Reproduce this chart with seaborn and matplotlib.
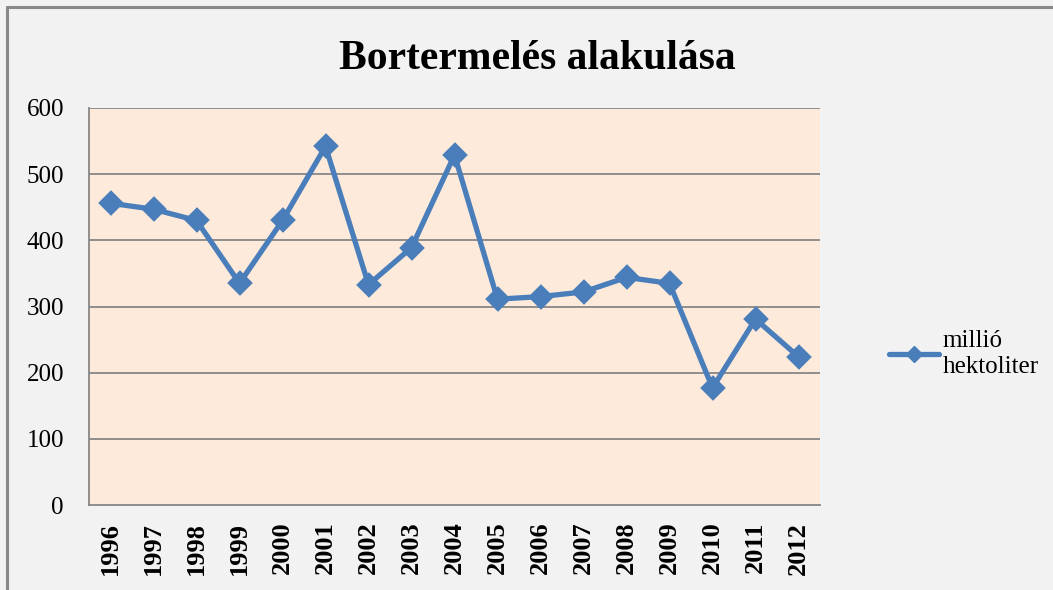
import numpy as np
import matplotlib
matplotlib.use("Agg")
import matplotlib.pyplot as plt
import seaborn as sns
from matplotlib.lines import Line2D
from matplotlib.ticker import FixedLocator

years = ["1996", "1997", "1998", "1999", "2000", "2001", "2002", "2003", "2004",
         "2005", "2006", "2007", "2008", "2009", "2010", "2011", "2012"]
production = [456, 447, 430, 335, 430, 542, 333, 389, 529,
              311, 315, 322, 344, 335, 177, 281, 224]
y_ticks = [0, 100, 200, 300, 400, 500, 600]
title = "Bortermelés alakulása"
series_label = "millió\nhektoliter"

sns.set_style("white")
plt.rcParams['font.family'] = ['Liberation Serif', 'DejaVu Serif']
plt.rcParams['text.color'] = 'black'
plt.rcParams['xtick.labelcolor'] = 'black'
plt.rcParams['ytick.labelcolor'] = 'black'

line_color = "#4A7EBB"
grid_color = "#878787"

fig = plt.figure(figsize=(10.53, 5.9), dpi=100, facecolor="#F2F2F2")
ax = fig.add_axes([89 / 1053, 85 / 590, 731 / 1053, 397 / 590])
ax.set_facecolor("#FDEADA")

sns.pointplot(x=years, y=production, color=line_color, markers="D",
              markersize=10.5, linewidth=3.8, errorbar=None, ax=ax)

ax.set_ylim(0, 600)
ax.set_xlim(-0.5, len(years) - 0.5)
ax.set_yticks(y_ticks)
ax.set_yticklabels([str(t) for t in y_ticks])
for t in y_ticks[1:]:
    ax.axhline(t, color=grid_color, lw=1.3, zorder=0)

ax.xaxis.set_minor_locator(FixedLocator(np.arange(-0.5, len(years), 1.0)))
ax.tick_params(axis="x", which="major", length=0, pad=12)
ax.tick_params(axis="x", which="minor", length=7, color=grid_color, width=1.3)
ax.tick_params(axis="y", length=8, color=grid_color, width=1.3, pad=10, labelsize=18)
for lbl in ax.get_xticklabels():
    lbl.set_rotation(90)
    lbl.set_fontweight("bold")
    lbl.set_fontsize(19)
ax.set_xlabel("")
ax.set_ylabel("")

for side in ["top", "right"]:
    ax.spines[side].set_visible(False)
for side in ["left", "bottom"]:
    ax.spines[side].set_color(grid_color)
    ax.spines[side].set_linewidth(1.3)

fig.text(537 / 1053, 1 - 59 / 590, title, ha="center", va="center",
         fontsize=30, fontweight="bold")

handle = Line2D([], [], color=line_color, lw=3.8, marker="D", markersize=8)
fig.legend([handle], [series_label], loc="center left",
           bbox_to_anchor=(866 / 1053, 1 - 354 / 590), frameon=False,
           fontsize=18, handlelength=2.0, handletextpad=0.15, labelspacing=0.2)

# frame lines (top and left) as in the source image
fig.add_artist(Line2D([7 / 1053, 1], [1 - 7 / 590, 1 - 7 / 590], color="#888888", lw=2.2))
fig.add_artist(Line2D([7 / 1053, 7 / 1053], [0, 1 - 7 / 590], color="#888888", lw=2.2))

fig.savefig("out.png", dpi=100, facecolor=fig.get_facecolor())
